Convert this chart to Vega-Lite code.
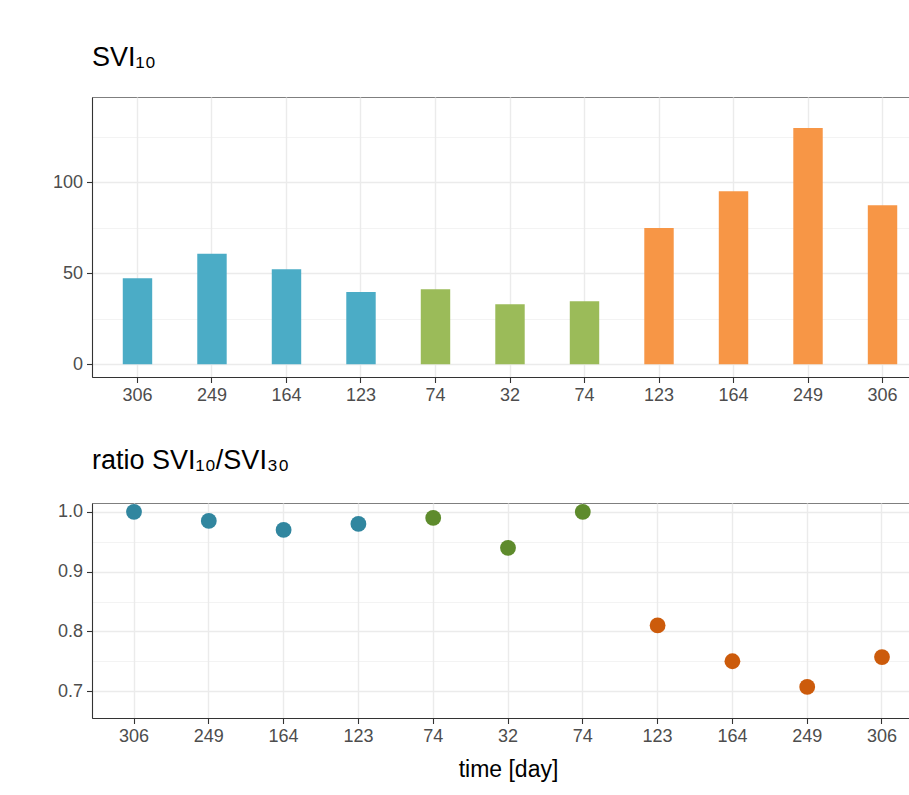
{
  "$schema": "https://vega.github.io/schema/vega-lite/v6.json",
  "padding": {"left": 51, "top": 43, "right": 0, "bottom": 0},
  "background": "white",
  "config": {
    "font": "Liberation Sans",
    "view": {"stroke": "#7f7f7f", "strokeWidth": 1},
    "axis": {
      "labelFont": "Liberation Sans", "labelFontSize": 18, "labelColor": "#4d4d4d",
      "tickColor": "#333333", "tickSize": 5.5, "tickWidth": 1.1, "labelPadding": 4,
      "domainColor": "#333333", "domainWidth": 1.1,
      "gridColor": "#ebebeb", "gridWidth": 1.4,
      "titleFont": "Liberation Sans", "titleFontSize": 23, "titleFontWeight": "normal", "titleColor": "#000000"
    },
    "title": {"font": "Liberation Sans", "fontSize": 27, "fontWeight": "normal", "color": "#000000", "anchor": "start", "frame": "group", "baseline": "alphabetic"}
  },
  "data": {"values": [
    {"sample": "01_306", "day": 306, "group": "1", "svi10": 47.3, "ratio": 1.0},
    {"sample": "02_249", "day": 249, "group": "1", "svi10": 60.8, "ratio": 0.985},
    {"sample": "03_164", "day": 164, "group": "1", "svi10": 52.2, "ratio": 0.97},
    {"sample": "04_123", "day": 123, "group": "1", "svi10": 39.7, "ratio": 0.98},
    {"sample": "05_74", "day": 74, "group": "2", "svi10": 41.3, "ratio": 0.99},
    {"sample": "06_32", "day": 32, "group": "2", "svi10": 33.0, "ratio": 0.94},
    {"sample": "07_74", "day": 74, "group": "2", "svi10": 34.6, "ratio": 1.0},
    {"sample": "08_123", "day": 123, "group": "3", "svi10": 75.0, "ratio": 0.81},
    {"sample": "09_164", "day": 164, "group": "3", "svi10": 95.2, "ratio": 0.75},
    {"sample": "10_249", "day": 249, "group": "3", "svi10": 130.0, "ratio": 0.707},
    {"sample": "11_306", "day": 306, "group": "3", "svi10": 87.4, "ratio": 0.757}
  ]},
  "concat": [
    {
      "width": 836, "height": 280,
      "title": {"text": "SVI₁₀", "offset": 25},
      "mark": {"type": "bar"},
      "encoding": {
        "x": {"field": "sample", "type": "nominal", "sort": "ascending",
          "scale": {"type": "band", "paddingInner": 0.605, "paddingOuter": 0.413},
          "axis": {"title": null, "labelExpr": "split(datum.label,'_')[1]", "labelAngle": 0, "bandPosition": 0.5, "grid": true}},
        "y": {"field": "svi10", "type": "quantitative",
          "scale": {"domain": [-7, 147], "nice": false},
          "axis": {"title": null, "values": [0, 25, 50, 75, 100, 125],
            "labelExpr": "datum.value % 50 === 0 ? datum.label : ''",
            "tickOpacity": {"expr": "datum.value % 50 === 0 ? 1 : 0"},
            "gridWidth": {"expr": "datum.value % 50 === 0 ? 1.4 : 0.6"}}},
        "y2": {"datum": 0},
        "color": {"field": "group", "type": "nominal",
          "scale": {"domain": ["1", "2", "3"], "range": ["#4BACC6", "#9BBB59", "#F79646"]}, "legend": null}
      }
    },
    {
      "width": 832, "height": 215,
      "title": {"text": "ratio SVI₁₀/SVI₃₀", "offset": 28},
      "mark": {"type": "circle", "size": 250, "opacity": 1},
      "encoding": {
        "x": {"field": "sample", "type": "nominal", "sort": "ascending",
          "scale": {"type": "band", "paddingInner": 0.605, "paddingOuter": 0.364},
          "axis": {"title": "time [day]", "labelExpr": "split(datum.label,'_')[1]", "labelAngle": 0, "bandPosition": 0.5, "grid": true, "titlePadding": 13}},
        "y": {"field": "ratio", "type": "quantitative",
          "scale": {"domain": [0.655, 1.015], "nice": false, "zero": false},
          "axis": {"title": null, "values": [0.7, 0.75, 0.8, 0.85, 0.9, 0.95, 1.0], "format": ".1f",
            "labelExpr": "round(datum.value*100) % 10 === 0 ? datum.label : ''",
            "tickOpacity": {"expr": "round(datum.value*100) % 10 === 0 ? 1 : 0"},
            "gridWidth": {"expr": "round(datum.value*100) % 10 === 0 ? 1.4 : 0.6"}}},
        "color": {"field": "group", "type": "nominal",
          "scale": {"domain": ["1", "2", "3"], "range": ["#31869F", "#5E8B2C", "#CC5B0B"]}, "legend": null}
      }
    }
  ],
  "columns": 1,
  "spacing": 41,
  "resolve": {"scale": {"x": "independent", "y": "independent", "color": "independent"}}
}
